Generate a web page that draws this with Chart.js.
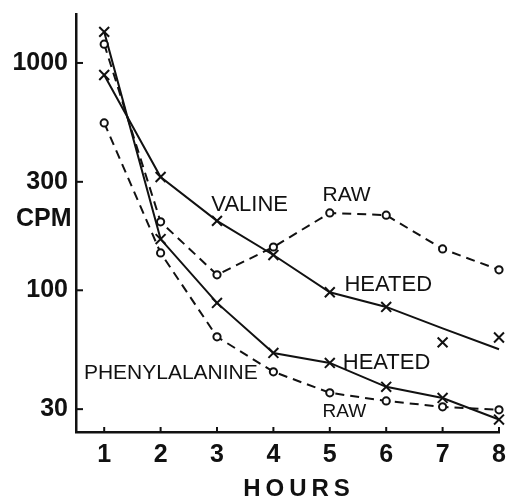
<!DOCTYPE html>
<html>
<head>
<meta charset="utf-8">
<script src="https://cdn.jsdelivr.net/npm/chart.js@4/dist/chart.umd.min.js"></script>
<style>
  html, body { margin: 0; padding: 0; background: #fff; }
  #wrap { position: relative; width: 514px; height: 499px; }
</style>
</head>
<body>
<div id="wrap"><canvas id="c"></canvas></div>
<script>
// Hours after feeding
const hours = [1, 2, 3, 4, 5, 6, 7, 8];

// Counts per minute (log scale)
const valineRaw = [1210, 200, 117, 155, 219, 214, 152, 123];
const valineHeated = [885, 315, 202, 143, 98, 84.5, 59, 62];
// hand-fitted curve drawn through the heated valine points
const valineHeatedCurve = [885, 315, 202, 143, 98, 84.5, 68, 55];
const pheRaw = [545, 146, 62.4, 43.8, 35.4, 32.6, 30.7, 29.8];
const pheHeated = [1370, 168, 88, 53, 47.9, 37.6, 33.6, 27.0];

const yTickValues = [30, 100, 300, 1000];

// Curve labels, placed in data coordinates
const curveLabels = [
  { text: 'VALINE', x: 2.90, y: 237, size: 22 },
  { text: 'RAW', x: 4.87, y: 263, size: 21 },
  { text: 'HEATED', x: 5.26, y: 106, size: 22 },
  { text: 'PHENYLALANINE', x: 0.64, y: 43.3, size: 21 },
  { text: 'HEATED', x: 5.23, y: 47.9, size: 22 },
  { text: 'RAW', x: 4.87, y: 29.2, size: 19 }
];

const FONT = '"Liberation Sans", Arial, sans-serif';
const INK = '#111';

function pts(values) {
  return hours.map((h, i) => ({ x: h, y: values[i] }));
}

const crossStyle = {
  pointStyle: 'crossRot', pointRadius: 7, pointBorderWidth: 2,
  pointBorderColor: INK, pointBackgroundColor: INK
};
const ringStyle = {
  pointStyle: 'circle', pointRadius: 3.6, pointBorderWidth: 2,
  pointBorderColor: INK, pointBackgroundColor: '#fff'
};

const datasets = [
  // valine, heated: fitted line plus measured points
  { label: 'Valine heated (curve)', data: pts(valineHeatedCurve), borderColor: INK, borderWidth: 2,
    pointRadius: 0, showLine: true, clip: false },
  Object.assign({ label: 'Valine heated', data: pts(valineHeated), showLine: false, clip: false }, crossStyle),
  Object.assign({ label: 'Valine raw', data: pts(valineRaw), borderColor: INK, borderWidth: 2,
    borderDash: [9, 6], showLine: true, clip: false }, ringStyle),
  Object.assign({ label: 'Phenylalanine heated', data: pts(pheHeated), borderColor: INK, borderWidth: 2,
    showLine: true, clip: false }, crossStyle),
  Object.assign({ label: 'Phenylalanine raw', data: pts(pheRaw), borderColor: INK, borderWidth: 2,
    borderDash: [9, 6], showLine: true, clip: false }, ringStyle)
];

// Inward tick marks, curve labels and axis captions
const decorations = {
  id: 'decorations',
  afterDatasetsDraw(chart) {
    const { ctx, chartArea, scales } = chart;
    const xs = scales.x, ys = scales.y;
    ctx.save();
    ctx.strokeStyle = INK;
    ctx.lineWidth = 2;
    yTickValues.forEach(v => {
      const py = ys.getPixelForValue(v);
      ctx.beginPath();
      ctx.moveTo(chartArea.left, py);
      ctx.lineTo(chartArea.left + 7, py);
      ctx.stroke();
    });
    hours.forEach(h => {
      const px = xs.getPixelForValue(h);
      ctx.beginPath();
      ctx.moveTo(px, chartArea.bottom);
      ctx.lineTo(px, chartArea.bottom - 5);
      ctx.stroke();
    });

    ctx.fillStyle = INK;
    ctx.textBaseline = 'middle';
    ctx.textAlign = 'left';
    curveLabels.forEach(l => {
      ctx.font = `${l.size}px ${FONT}`;
      ctx.fillText(l.text, xs.getPixelForValue(l.x), ys.getPixelForValue(l.y));
    });

    // y caption, set horizontally between the 300 and 100 ticks
    ctx.font = `bold 25px ${FONT}`;
    ctx.fillText('CPM', 16, ys.getPixelForValue(206));

    // x caption
    ctx.font = `bold 24px ${FONT}`;
    ctx.letterSpacing = '5px';
    ctx.textAlign = 'left';
    const w = ctx.measureText('HOURS').width - 5;
    const cx = (chartArea.left + chartArea.right) / 2 + 9;
    ctx.fillText('HOURS', cx - w / 2, 489);
    ctx.restore();
  }
};

new Chart(document.getElementById('c'), {
  type: 'scatter',
  data: { datasets },
  options: {
    responsive: true,
    maintainAspectRatio: false,
    animation: false,
    layout: { padding: { left: 0, right: 15, top: 14, bottom: 0 } },
    plugins: { legend: { display: false }, tooltip: { enabled: false } },
    scales: {
      x: {
        type: 'linear', min: 0.5, max: 8,
        afterBuildTicks: s => { s.ticks = hours.map(v => ({ value: v })); },
        afterFit: s => { s.height = 67; s.paddingLeft = 0; s.paddingRight = 0; },
        grid: { display: false, drawTicks: false },
        border: { display: true, color: INK, width: 2.5 },
        ticks: { color: INK, padding: 8, font: { family: FONT, size: 25, weight: 'bold' },
                 callback: v => String(v), maxRotation: 0, autoSkip: false }
      },
      y: {
        type: 'logarithmic', min: 23.8, max: 1642,
        afterBuildTicks: s => { s.ticks = yTickValues.map(v => ({ value: v })); },
        afterFit: s => { s.width = 76; s.paddingTop = 0; s.paddingBottom = 0; },
        grid: { display: false, drawTicks: false },
        border: { display: true, color: INK, width: 2.5 },
        ticks: { color: INK, padding: 8, font: { family: FONT, size: 25, weight: 'bold' },
                 callback: v => String(v), autoSkip: false }
      }
    }
  },
  plugins: [decorations]
});
</script>
</body>
</html>
